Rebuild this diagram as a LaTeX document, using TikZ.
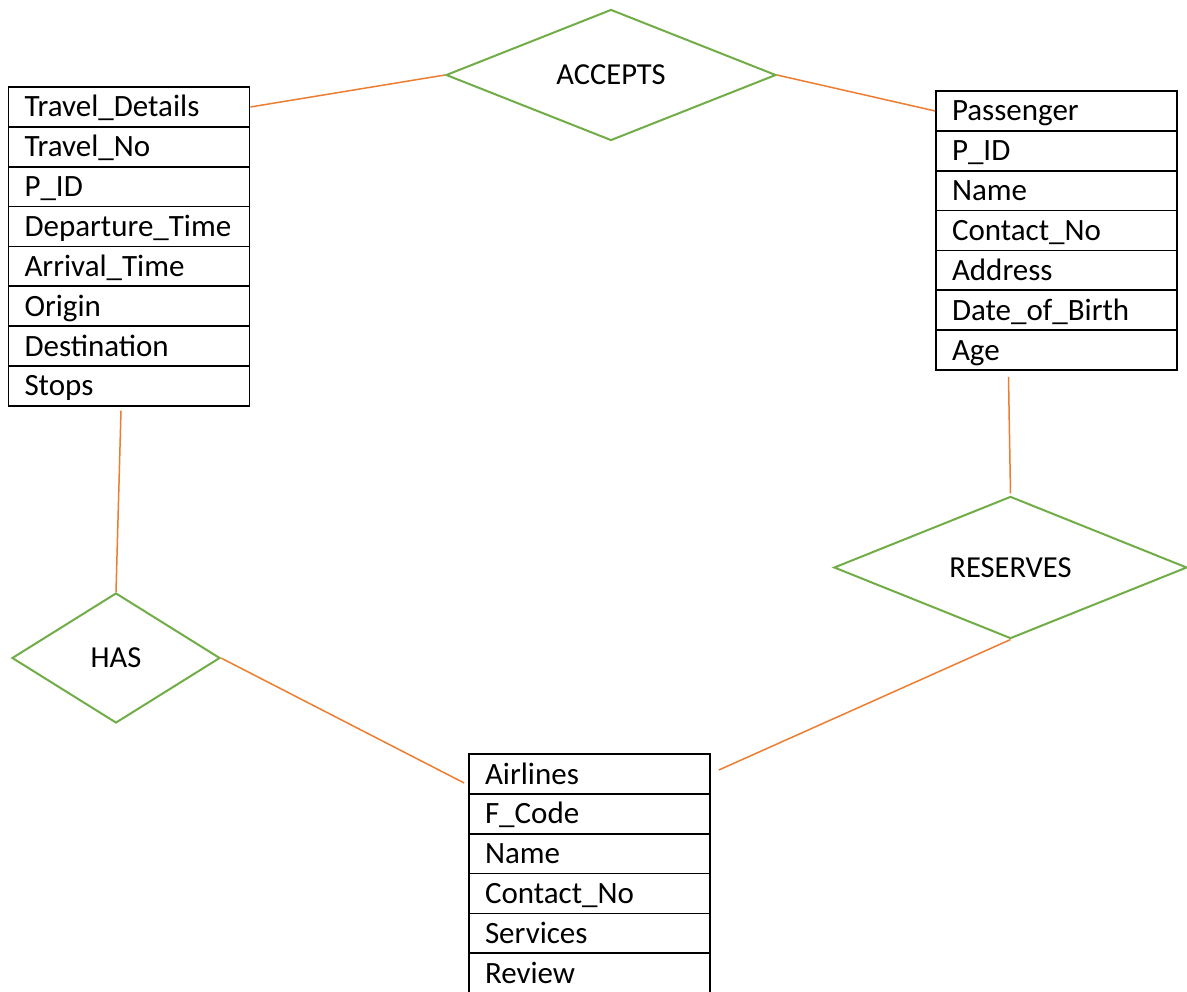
\documentclass[tikz,border=0pt]{standalone}
\usepackage{fontspec}
\setmainfont{Carlito}
\usepackage{tikz}
\usetikzlibrary{shapes.geometric}
\definecolor{erorange}{HTML}{ED7D31}
\definecolor{ergreen}{HTML}{70AD47}

\begin{document}
\begin{tikzpicture}[x=1pt,y=-1pt,
  field/.style={draw,line width=1.7pt,rectangle,inner xsep=16pt,inner ysep=0pt,
    text width=209pt,align=left,minimum height=39.85pt,text height=20pt,text depth=0pt,
    font=\fontsize{31pt}{37pt}\selectfont},
  rel/.style={draw=ergreen,line width=2pt,diamond,inner sep=0pt,
    font=\fontsize{30.5pt}{36pt}\selectfont},
  link/.style={draw=erorange,line width=1.5pt}]
\useasboundingbox (0,0) rectangle (1187,992);

% Travel_Details
\node [field] (td1) at (129,107) {Travel\_Details};
\node [field] (td2) at (129,146.85) {Travel\_No};
\node [field] (td3) at (129,186.7) {P\_ID};
\node [field] (td4) at (129,226.55) {Departure\_Time};
\node [field] (td5) at (129,266.4) {Arrival\_Time};
\node [field] (td6) at (129,306.25) {Origin};
\node [field] (td7) at (129,346.1) {Destination};
\node [field] (td8) at (129,385.95) {Stops};

% Passenger
\node [field] (pa1) at (1056.5,111) {Passenger};
\node [field] (pa2) at (1056.5,150.85) {P\_ID};
\node [field] (pa3) at (1056.5,190.7) {Name};
\node [field] (pa4) at (1056.5,230.55) {Contact\_No};
\node [field] (pa5) at (1056.5,270.4) {Address};
\node [field] (pa6) at (1056.5,310.25) {Date\_of\_Birth};
\node [field] (pa7) at (1056.5,350.1) {Age};

% Airlines
\node [field] (al1) at (589.5,774) {Airlines};
\node [field] (al2) at (589.5,813.85) {F\_Code};
\node [field] (al3) at (589.5,853.7) {Name};
\node [field] (al4) at (589.5,893.55) {Contact\_No};
\node [field] (al5) at (589.5,933.4) {Services};
\node [field] (al6) at (589.5,973.25) {Review};

% relations
\node [rel,minimum width=330pt,minimum height=131pt] (acc) at (611,75) {ACCEPTS};
\node [rel,minimum width=353pt,minimum height=131pt] (res) at (1010.5,567.5) {RESERVES};
\node [rel,minimum width=208pt,minimum height=130pt] (has) at (116,658) {HAS};

\draw [link] (td1.east)--(acc.west);
\draw [link] (acc.east)--(pa1.west);
\draw [link] ([shift={(-8pt,-4pt)}]td8.south)--(has.north);
\draw [link] ([shift={(-48pt,-6pt)}]pa7.south)--([yshift=2pt]res.north);
\draw [link] (has.east)--([shift={(-4pt,-9pt)}]al1.west);
\draw [link] (res.south)--([shift={(8pt,4pt)}]al1.east);

\end{tikzpicture}
\end{document}
